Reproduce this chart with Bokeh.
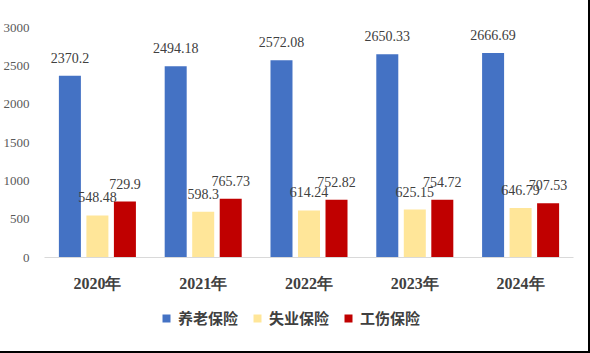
from bokeh.plotting import figure
from bokeh.layouts import column
from bokeh.models import ColumnDataSource, FactorRange, Range1d, FixedTicker, Legend, LegendItem, LabelSet
from bokeh.transform import dodge
from bokeh.embed import file_html
from bokeh.resources import INLINE

years = ["2020年", "2021年", "2022年", "2023年", "2024年"]
series_names = ["养老保险", "失业保险", "工伤保险"]
pension = [2370.2, 2494.18, 2572.08, 2650.33, 2666.69]
unemployment = [548.48, 598.3, 614.24, 625.15, 646.79]
injury = [729.9, 765.73, 752.82, 754.72, 707.53]
label_pension = ["2370.2", "2494.18", "2572.08", "2650.33", "2666.69"]
label_unemployment = ["548.48", "598.3", "614.24", "625.15", "646.79"]
label_injury = ["729.9", "765.73", "752.82", "754.72", "707.53"]
colors = ["#4472C4", "#FFE699", "#C00000"]
y_ticks = [0, 500, 1000, 1500, 2000, 2500, 3000]

src = ColumnDataSource(dict(year=years, a=pension, b=unemployment, c=injury,
                            la=label_pension, lb=label_unemployment, lc=label_injury))

p = figure(x_range=FactorRange(*years), y_range=Range1d(0, 3000),
           width=588, height=300, output_backend="svg", toolbar_location=None,
           min_border_left=44, min_border_right=15, min_border_top=27, min_border_bottom=43)
p.outline_line_color = None
p.grid.grid_line_color = None

offs = [-0.26, 0.0, 0.26]
cols = ["a", "b", "c"]
lcols = ["la", "lb", "lc"]
for off, col, lc, colr in zip(offs, cols, lcols, colors):
    p.vbar(x=dodge("year", off, range=p.x_range), top=col, width=0.208,
           source=src, fill_color=colr, line_color=None)
    lab = LabelSet(x=dodge("year", off, range=p.x_range), y=col, text=lc, source=src,
                   text_align="center", text_baseline="bottom", y_offset=13,
                   text_font="Liberation Serif", text_font_size="14px", text_color="#404040")
    p.add_layout(lab)

p.yaxis.ticker = FixedTicker(ticks=y_ticks)
p.yaxis.axis_line_color = None
p.yaxis.major_tick_line_color = None
p.yaxis.minor_tick_line_color = None
p.yaxis.major_label_text_font = "Liberation Serif"
p.yaxis.major_label_text_font_size = "13px"
p.yaxis.major_label_text_color = "#595959"
p.yaxis.major_label_standoff = 9

p.xaxis.axis_line_color = "#D9D9D9"
p.xaxis.axis_line_width = 1
p.xaxis.major_tick_line_color = None
p.xaxis.minor_tick_line_color = None
p.xaxis.major_label_text_font = "Liberation Serif"
p.xaxis.major_label_text_font_size = "16px"
p.xaxis.major_label_text_font_style = "bold"
p.xaxis.major_label_text_color = "#404040"
p.xaxis.major_label_standoff = 11

# legend strip
q = figure(x_range=Range1d(0, 1), y_range=Range1d(0, 1), width=588, height=51,
           output_backend="svg", toolbar_location=None,
           min_border_left=0, min_border_right=0, min_border_top=0, min_border_bottom=0)
q.axis.visible = False
q.grid.grid_line_color = None
q.outline_line_color = None
offscreen = ColumnDataSource(dict(x=[-100], top=[-100], bottom=[-200]))
leg_renderers = [q.vbar(x="x", top="top", bottom="bottom", width=0.1, source=offscreen,
                        fill_color=c, line_color=None)
                 for c in colors]
legend = Legend(items=[LegendItem(label=n, renderers=[r]) for n, r in zip(series_names, leg_renderers)],
                orientation="horizontal", location=(117, 23),
                glyph_width=10, glyph_height=10, label_standoff=7, spacing=14,
                label_text_font="Noto Sans CJK SC", label_text_font_size="15px",
                label_text_color="#404040", label_text_font_style="bold",
                border_line_color=None, background_fill_alpha=0,
                padding=4, margin=0)
q.add_layout(legend, "center")

layout = column(p, q, spacing=0)
layout.styles = {"border-right": "2px solid black", "border-bottom": "2px solid black"}

open("out.html", "w").write(file_html(layout, INLINE))
